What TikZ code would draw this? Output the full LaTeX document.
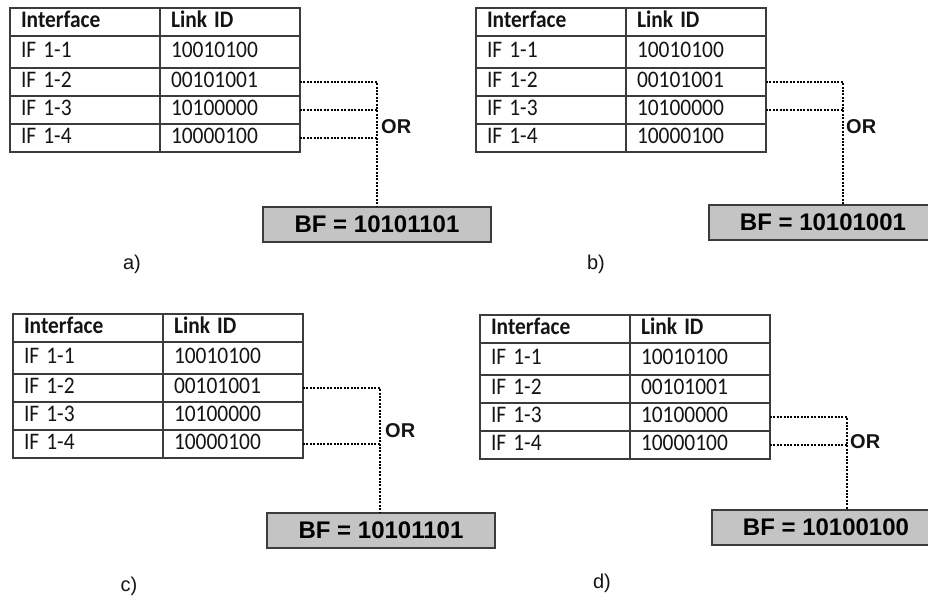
\documentclass[tikz,border=0pt]{standalone}
\usepackage{fontspec}
\usepackage{graphicx}
\setmainfont{Liberation Sans}
\newfontfamily\calfont{Carlito}
\definecolor{linegray}{RGB}{60,60,60}
\definecolor{textgray}{RGB}{20,20,20}
\definecolor{bfgray}{RGB}{196,196,196}
\newcommand\ct[1]{\scalebox{1.02}[1.13]{#1}}
\tikzset{
  tline/.style={draw=linegray, line width=1.3pt},
  cellbase/.style={tline, rectangle, anchor=north west, outer sep=0pt, inner xsep=11pt, inner ysep=0pt,
    align=left, text height=15pt, text depth=4pt, font=\calfont\fontsize{21}{24}\selectfont, text=textgray},
  cellA/.style={cellbase, text width=128pt},
  cellB/.style={cellbase, text width=118pt},
  bfbox/.style={draw=linegray, line width=1.2pt, fill=bfgray, anchor=north west, outer sep=0pt,
    minimum width=228pt, minimum height=35pt, font=\bfseries\fontsize{24}{28}\selectfont, text=black},
  dotline/.style={draw=black, line width=1.1pt, dash pattern=on 2pt off 1.4pt},
  ortext/.style={anchor=west, inner sep=0pt, font=\bfseries\fontsize{20}{24}\selectfont, text=textgray},
  sublabel/.style={inner sep=0pt, font=\fontsize{20}{24}\selectfont, text=textgray}
}
\newcommand\drawtable[3]{%
  \node[cellA, minimum height=28pt] (#1-h1) at (#2,#3) {\ct{\textbf{Interface}}};
  \node[cellB, minimum height=28pt] (#1-h2) at (#1-h1.north east) {\ct{\textbf{Link ID}}};
  \node[cellA, minimum height=32pt] (#1-1a) at (#1-h1.south west) {\ct{IF 1-1}};
  \node[cellB, minimum height=32pt] (#1-1b) at (#1-1a.north east) {\ct{10010100}};
  \node[cellA, minimum height=28pt] (#1-2a) at (#1-1a.south west) {\ct{IF 1-2}};
  \node[cellB, minimum height=28pt] (#1-2b) at (#1-2a.north east) {\ct{00101001}};
  \node[cellA, minimum height=28pt] (#1-3a) at (#1-2a.south west) {\ct{IF 1-3}};
  \node[cellB, minimum height=28pt] (#1-3b) at (#1-3a.north east) {\ct{10100000}};
  \node[cellA, minimum height=28pt] (#1-4a) at (#1-3a.south west) {\ct{IF 1-4}};
  \node[cellB, minimum height=28pt] (#1-4b) at (#1-4a.north east) {\ct{10000100}};
}
\begin{document}
\begin{tikzpicture}[x=1pt,y=-1pt]
\useasboundingbox[fill=white] (0,0) rectangle (928,598);
\clip (0,0) rectangle (928,598);

% ---- a) ----
\drawtable{a}{10}{8}
\node[bfbox] (a-bf) at (263,207) {BF = 10101101};
\path (a-bf.north west) ++(114,0) coordinate (a-jn);
\draw[dotline] (a-2b.east) -| (a-jn);
\draw[dotline] (a-3b.east) -- (a-3b.east -| a-jn);
\draw[dotline] (a-4b.east) -- (a-4b.east -| a-jn);
\node[ortext] (a-or) at (381,127) {OR};
\node[sublabel] (a-lab) at (132,264) {a)};

% ---- b) ----
\drawtable{b}{476}{8}
\node[bfbox] (b-bf) at (709,205) {BF = 10101001};
\path (b-bf.north west) ++(134,0) coordinate (b-jn);
\draw[dotline] (b-2b.east) -| (b-jn);
\draw[dotline] (b-3b.east) -- (b-3b.east -| b-jn);
\node[ortext] (b-or) at (846,127) {OR};
\node[sublabel] (b-lab) at (596,264) {b)};

% ---- c) ----
\drawtable{c}{13}{314}
\node[bfbox] (c-bf) at (267,513) {BF = 10101101};
\path (c-bf.north west) ++(113,0) coordinate (c-jn);
\draw[dotline] (c-2b.east) -| (c-jn);
\draw[dotline] (c-4b.east) -- (c-4b.east -| c-jn);
\node[ortext] (c-or) at (385,431) {OR};
\node[sublabel] (c-lab) at (129,586) {c)};

% ---- d) ----
\drawtable{d}{480}{315}
\node[bfbox] (d-bf) at (712,510) {BF = 10100100};
\path (d-bf.north west) ++(135,0) coordinate (d-jn);
\draw[dotline] (d-3b.east) -| (d-jn);
\draw[dotline] (d-4b.east) -- (d-4b.east -| d-jn);
\node[ortext] (d-or) at (850,442) {OR};
\node[sublabel] (d-lab) at (602,583) {d)};
\end{tikzpicture}
\end{document}
